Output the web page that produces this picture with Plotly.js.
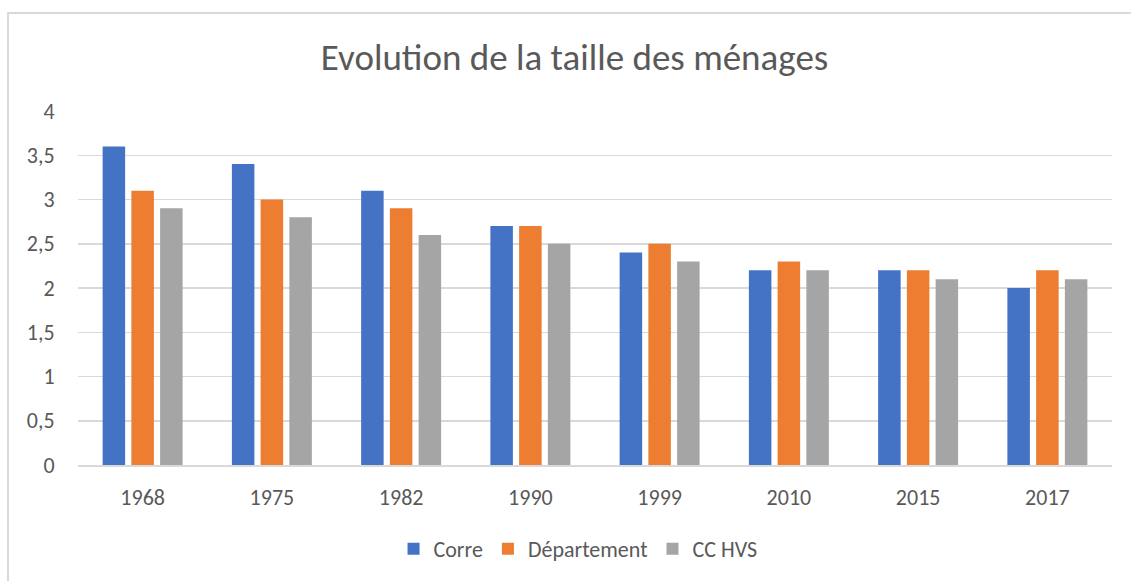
<!DOCTYPE html>
<html><head><meta charset="utf-8">
<script src="https://cdn.plot.ly/plotly-3.0.1.min.js"></script>
<style>
html,body{margin:0;padding:0;background:#fff;overflow:hidden;}
#frame{position:absolute;left:7px;top:12px;width:1200px;height:700px;border:2px solid #d9d9d9;box-sizing:border-box;}
#chart{position:absolute;left:0;top:0;width:1131px;height:581px;}
</style></head>
<body>
<div id="frame"></div>
<div id="chart"></div>
<script>
const years = ['1968','1975','1982','1990','1999','2010','2015','2017'];
const corre = [3.6,3.4,3.1,2.7,2.4,2.2,2.2,2.0];
const departement = [3.1,3.0,2.9,2.7,2.5,2.3,2.2,2.2];
const ccHVS = [2.9,2.8,2.6,2.5,2.3,2.2,2.1,2.1];
const seriesNames = ['Corre','Département','CC HVS'];
const colors = ['#4472c4','#ed7d31','#a5a5a5'];
const yTicks = [0,0.5,1,1.5,2,2.5,3,3.5,4];

const data = [corre, departement, ccHVS].map((v,i)=>({
  type:'bar', x:years, y:v, name:seriesNames[i],
  marker:{color:colors[i], line:{width:0}}, hoverinfo:'y'
}));
const font = "Calibri, Carlito, 'Open Sans', sans-serif";
const layout = {
  width:1131, height:581,
  paper_bgcolor:'rgba(0,0,0,0)', plot_bgcolor:'rgba(0,0,0,0)',
  margin:{l:78,r:19,t:111,b:116},
  separators:',.',
  title:{text:'Evolution de la taille des ménages', x:0.508, xanchor:'center', xref:'container', y:0.902, yanchor:'middle', yref:'container',
    font:{family:font, size:37, color:'#595959'}},
  barmode:'group', bargap:0.333, bargroupgap:0.217,
  xaxis:{type:'category', tickfont:{family:font,size:22,color:'#595959'}, showline:true, linecolor:'#d9d9d9', linewidth:1.5,
    ticks:'outside', ticklen:12, tickcolor:'rgba(0,0,0,0)', showgrid:false},
  yaxis:{range:[0,4], tickvals:yTicks, ticktext:yTicks.map(t=>String(t).replace('.',',')), tickfont:{family:font,size:22,color:'#595959'},
    gridcolor:'#d9d9d9', gridwidth:1.5, zeroline:false, showline:false, ticks:'outside', ticklen:18, tickcolor:'rgba(0,0,0,0)'},
  legend:{orientation:'h', x:0.4836, xref:'paper', xanchor:'center', y:0.055, yref:'container', yanchor:'middle',
    font:{family:font,size:22,color:'#595959'}, itemwidth:30, traceorder:'normal'},
  showlegend:true
};
Plotly.newPlot('chart', data, layout, {displayModeBar:false, staticPlot:true});
</script>
</body></html>
